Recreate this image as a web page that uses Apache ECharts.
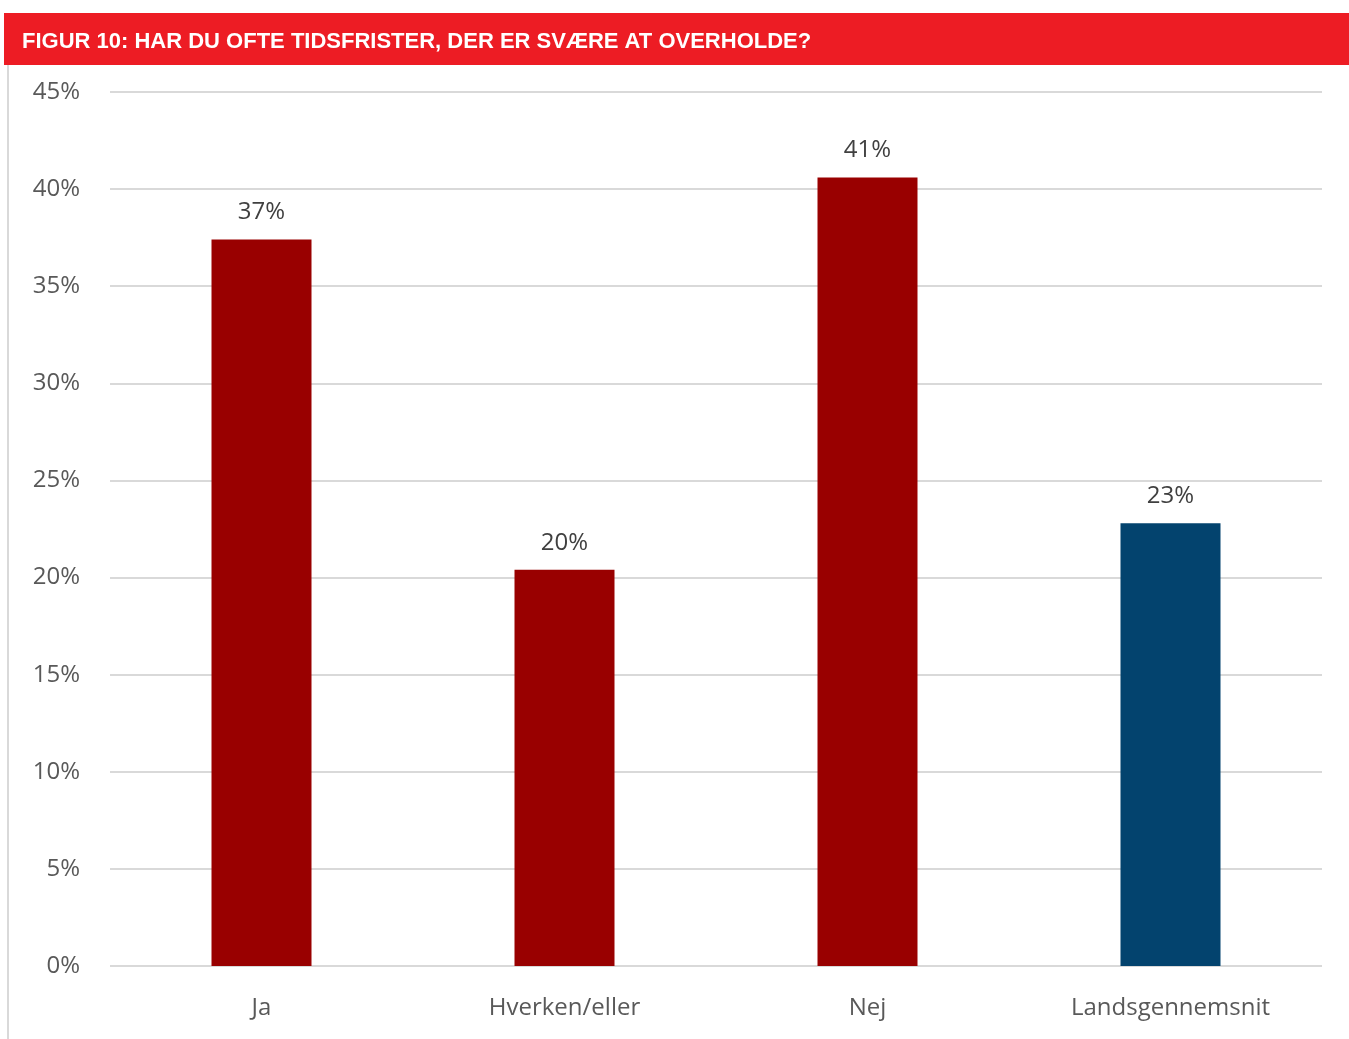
<!DOCTYPE html>
<html>
<head>
<meta charset="utf-8">
<script src="https://cdn.jsdelivr.net/npm/echarts@6/dist/echarts.min.js"></script>
<style>
html,body{margin:0;padding:0;background:#fff;}
#chart{width:1349px;height:1039px;}
</style>
</head>
<body>
<div id="chart"></div>
<script>
var titleText = 'FIGUR 10: HAR DU OFTE TIDSFRISTER, DER ER SVÆRE AT OVERHOLDE?';
var categories = ['Ja', 'Hverken/eller', 'Nej', 'Landsgennemsnit'];
var values = [37.4, 20.4, 40.6, 22.8];
var barColors = ['#990000', '#990000', '#990000', '#03436E'];

var chart = echarts.init(document.getElementById('chart'), null, {renderer: 'canvas'});
chart.setOption({
  animation: false,
  backgroundColor: '#ffffff',
  graphic: [
    {type: 'rect', left: 4, top: 13, shape: {width: 1345, height: 52}, style: {fill: '#ED1C24'}, silent: true},
    {type: 'text', left: 22, top: 31, style: {text: titleText, fill: '#ffffff', font: 'bold 22px "Liberation Sans", Arial, sans-serif'}},
    {type: 'rect', left: 7, top: 65, shape: {width: 2, height: 974}, style: {fill: '#d9d9d9'}, silent: true}
  ],
  grid: {left: 110, right: 27, top: 92, bottom: 73, containLabel: false},
  xAxis: {
    type: 'category',
    data: categories,
    axisLine: {show: false},
    axisTick: {show: false},
    axisLabel: {color: '#595959', fontSize: 24, fontFamily: '"Open Sans", "Liberation Sans", sans-serif', margin: 30}
  },
  yAxis: {
    type: 'value',
    min: 0, max: 45, interval: 5,
    axisLine: {show: false},
    axisTick: {show: false},
    splitLine: {lineStyle: {color: '#d9d9d9', width: 2}},
    axisLabel: {color: '#595959', fontSize: 24, fontFamily: '"Open Sans", "Liberation Sans", sans-serif', margin: 30, formatter: function (v) { return v + '%'; }}
  },
  series: [{
    type: 'bar',
    barWidth: 100,
    data: values.map(function (v, i) { return {value: v, itemStyle: {color: barColors[i]}}; }),
    label: {
      show: true, position: 'top', distance: 15,
      color: '#404040', fontSize: 24, fontFamily: '"Open Sans", "Liberation Sans", sans-serif',
      formatter: function (p) { return Math.round(p.value) + '%'; }
    }
  }]
});
</script>
</body>
</html>
